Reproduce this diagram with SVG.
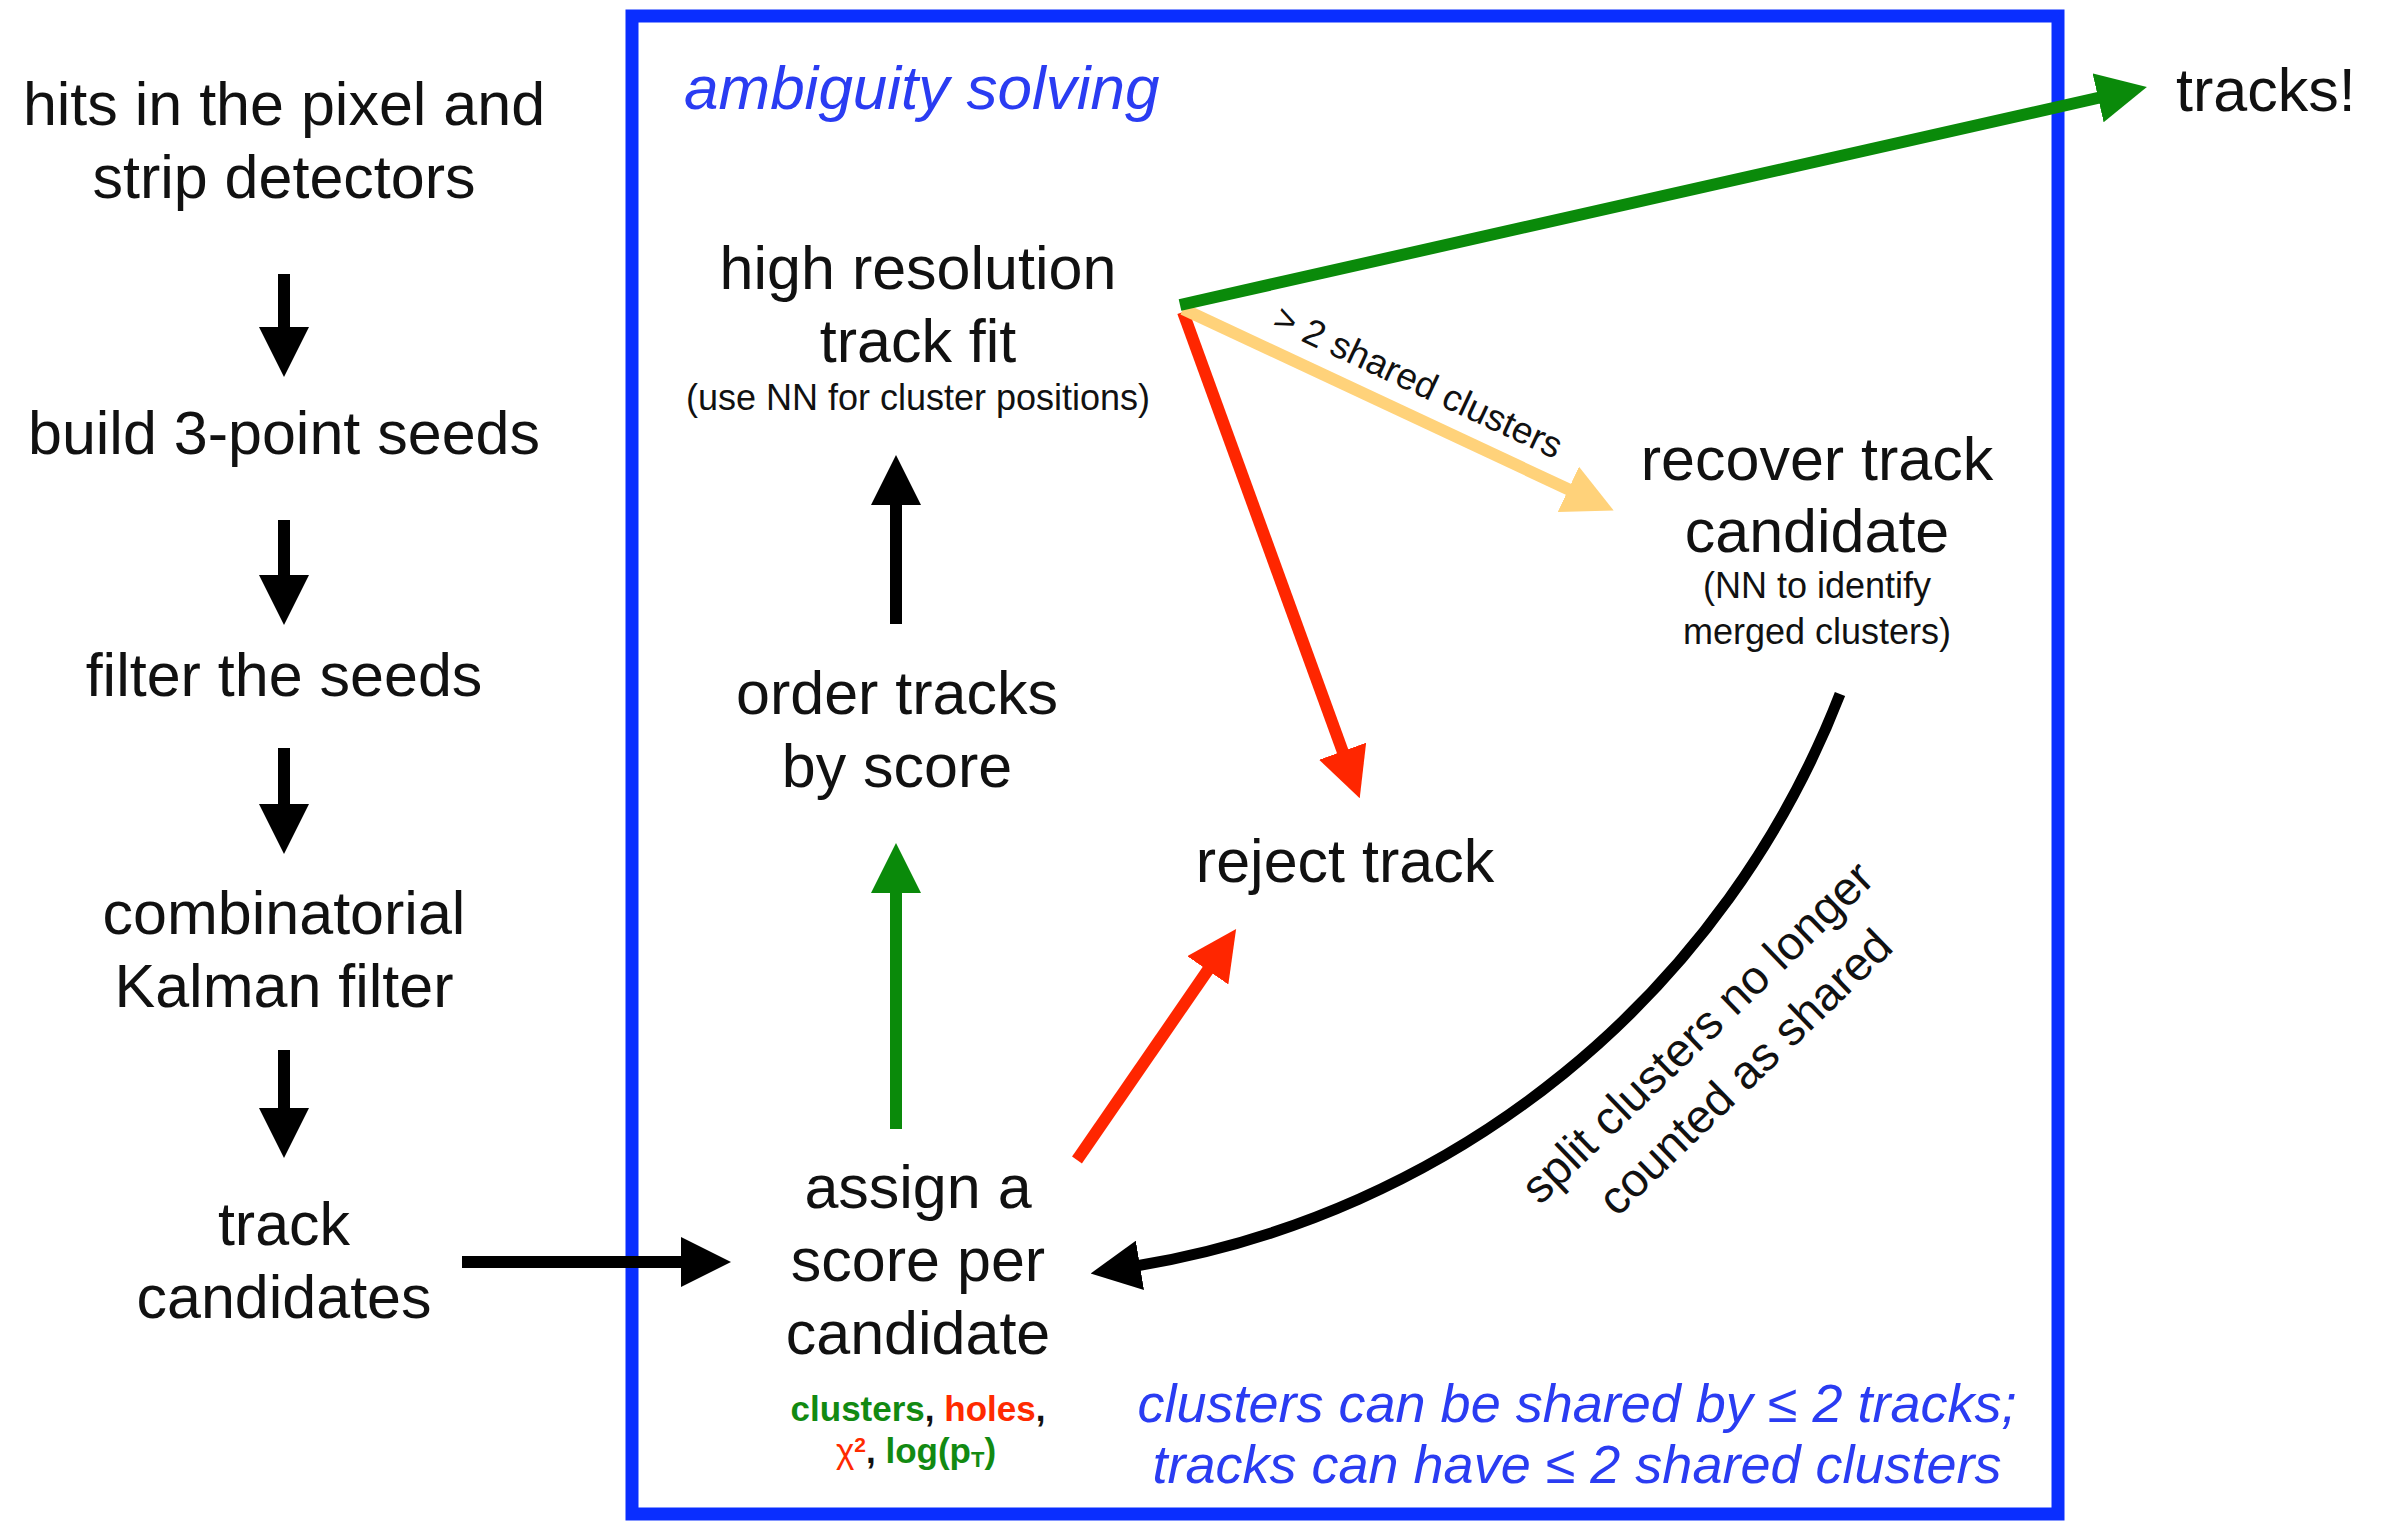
<svg xmlns="http://www.w3.org/2000/svg" width="2385" height="1521" viewBox="0 0 2385 1521">
  <style>
    text { font-family: "Liberation Sans", Arial, Helvetica, sans-serif; fill: #111; }
    .lbl { font-size: 61px; text-anchor: middle; }
    .note { font-size: 36px; text-anchor: middle; }
    .blue { fill: #2a3cf2; font-style: italic; }
    .score { font-size: 35px; font-weight: bold; text-anchor: middle; }
    .g { fill: #128a12; }
    .r { fill: #ff2a00; }
    .k { fill: #111; }
    .arr { fill: none; stroke-width: 12; stroke-linecap: butt; }
    .black { stroke: #000; marker-end: url(#head-black); }
    .green { stroke: #0a8a0a; marker-end: url(#head-green); }
    .red { stroke: #ff2600; marker-end: url(#head-red); }
    .yellow { stroke: #ffd27a; marker-end: url(#head-yellow); }
  </style>
  <defs>
    <marker id="head-black" markerUnits="userSpaceOnUse" viewBox="0 0 50 50" markerWidth="50" markerHeight="50" refX="4" refY="25" orient="auto">
      <path d="M0,0 L50,25 L0,50 z" fill="#000"/>
    </marker>
    <marker id="head-green" markerUnits="userSpaceOnUse" viewBox="0 0 50 50" markerWidth="50" markerHeight="50" refX="4" refY="25" orient="auto">
      <path d="M0,0 L50,25 L0,50 z" fill="#0a8a0a"/>
    </marker>
    <marker id="head-red" markerUnits="userSpaceOnUse" viewBox="0 0 50 50" markerWidth="50" markerHeight="50" refX="4" refY="25" orient="auto">
      <path d="M0,0 L50,25 L0,50 z" fill="#ff2600"/>
    </marker>
    <marker id="head-yellow" markerUnits="userSpaceOnUse" viewBox="0 0 50 50" markerWidth="50" markerHeight="50" refX="4" refY="25" orient="auto">
      <path d="M0,0 L50,25 L0,50 z" fill="#ffd27a"/>
    </marker>
  </defs>

  <rect width="2385" height="1521" fill="#fff"/>

  <!-- ambiguity solving frame -->
  <g id="ambiguity-box">
    <rect x="632" y="16" width="1426" height="1498" fill="none" stroke="#0a2eff" stroke-width="13"/>
    <text x="684" y="109" class="blue" style="font-size:62px">ambiguity solving</text>
  </g>

  <!-- left column: seeding and track finding -->
  <g id="hits">
    <text class="lbl" x="284" y="125">hits in the pixel and</text>
    <text class="lbl" x="284" y="198">strip detectors</text>
  </g>
  <g id="seeds">
    <text class="lbl" x="284" y="454">build 3-point seeds</text>
  </g>
  <g id="filter">
    <text class="lbl" x="284" y="696">filter the seeds</text>
  </g>
  <g id="ckf">
    <text class="lbl" x="284" y="934">combinatorial</text>
    <text class="lbl" x="284" y="1007">Kalman filter</text>
  </g>
  <g id="track-candidates">
    <text class="lbl" x="284" y="1245">track</text>
    <text class="lbl" x="284" y="1318">candidates</text>
  </g>

  <!-- inside the frame -->
  <g id="fit">
    <text class="lbl" x="918" y="289">high resolution</text>
    <text class="lbl" x="918" y="362">track fit</text>
    <text class="note" x="918" y="410">(use NN for cluster positions)</text>
  </g>
  <g id="order">
    <text class="lbl" x="897" y="714">order tracks</text>
    <text class="lbl" x="897" y="787">by score</text>
  </g>
  <g id="score">
    <text class="lbl" x="918" y="1208">assign a</text>
    <text class="lbl" x="918" y="1281">score per</text>
    <text class="lbl" x="918" y="1354">candidate</text>
    <text class="score" x="918" y="1421"><tspan class="g">clusters</tspan><tspan class="k">, </tspan><tspan class="r">holes</tspan><tspan class="k">,</tspan></text>
    <text class="score" x="916" y="1463"><tspan class="r" style="font-weight:normal">χ</tspan><tspan class="r" font-size="21" dy="-11">2</tspan><tspan class="k" dy="11">, </tspan><tspan class="g">log(p</tspan><tspan class="g" font-size="22" dy="4">T</tspan><tspan class="g" dy="-4">)</tspan></text>
  </g>
  <g id="reject">
    <text class="lbl" x="1345" y="882">reject track</text>
  </g>
  <g id="recover">
    <text class="lbl" x="1817" y="480">recover track</text>
    <text class="lbl" x="1817" y="552">candidate</text>
    <text class="note" x="1817" y="598">(NN to identify</text>
    <text class="note" x="1817" y="644">merged clusters)</text>
  </g>
  <g id="tracks">
    <text x="2176" y="111" style="font-size:61px">tracks!</text>
  </g>
  <g id="sharing-rules">
    <text class="blue" x="1577" y="1422" style="font-size:54px;text-anchor:middle">clusters can be shared by ≤ 2 tracks;</text>
    <text class="blue" x="1577" y="1483" style="font-size:54px;text-anchor:middle">tracks can have ≤ 2 shared clusters</text>
  </g>

  <!-- connectors -->
  <g id="connectors">
    <line class="arr black" x1="284" y1="274" x2="284" y2="331"/>
    <line class="arr black" x1="284" y1="520" x2="284" y2="579"/>
    <line class="arr black" x1="284" y1="748" x2="284" y2="808"/>
    <line class="arr black" x1="284" y1="1050" x2="284" y2="1112"/>
    <line class="arr black" x1="462" y1="1262" x2="685" y2="1262"/>
    <line class="arr black" x1="896" y1="624" x2="896" y2="501"/>
    <line class="arr green" x1="896" y1="1129" x2="896" y2="889"/>
    <line class="arr red" x1="1077" y1="1160" x2="1210" y2="967"/>
    <line class="arr red" x1="1183" y1="312" x2="1344" y2="755"/>
    <line class="arr yellow" x1="1183" y1="309" x2="1572" y2="491"/>
    <line class="arr green" x1="1180" y1="305" x2="2102" y2="97"/>
    <path class="arr black" d="M1840,694 A915,915 0 0 1 1136,1266" style="stroke-width:11"/>
    <text transform="translate(1413,393) rotate(25)" style="font-size:37px;text-anchor:middle">&gt; 2 shared clusters</text>
    <text transform="translate(1713,1039) rotate(-44)" style="font-size:47px;text-anchor:middle">
      <tspan x="0" y="0">split clusters no longer</tspan>
      <tspan x="0" y="62">counted as shared</tspan>
    </text>
  </g>
</svg>
